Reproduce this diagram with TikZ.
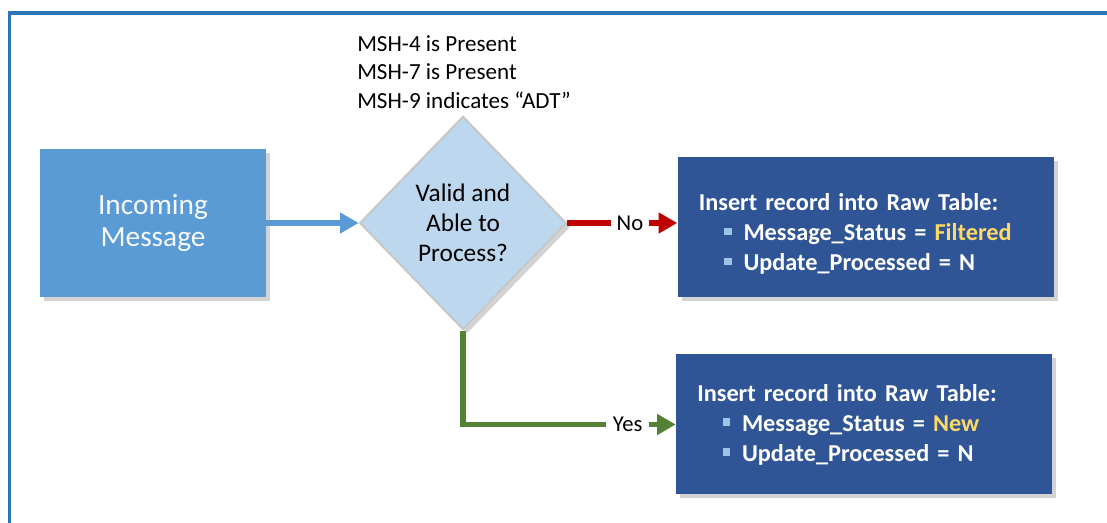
\documentclass[tikz,border=0pt]{standalone}
\usepackage{fontspec}
\setmainfont{Carlito}
\usepackage{xcolor}
\usepackage{tikz}
\usetikzlibrary{shapes.geometric}
\usetikzlibrary{shadows}
\usetikzlibrary{arrows.meta}
\definecolor{cframe}{rgb}{0.18,0.46,0.71}
\definecolor{cinmsg}{rgb}{0.357,0.608,0.835}
\definecolor{cvalid}{rgb}{0.741,0.843,0.933}
\definecolor{cvalidline}{rgb}{0.78,0.78,0.78}
\definecolor{craw}{rgb}{0.184,0.333,0.592}
\definecolor{cno}{rgb}{0.753,0.,0.}
\definecolor{cyes}{rgb}{0.329,0.51,0.208}
\definecolor{cgold}{rgb}{1.,0.851,0.4}
\definecolor{cbul}{rgb}{0.616,0.765,0.902}
\newcommand{\sqbul}{\hspace*{19pt}\textcolor{cbul}{\rule[4pt]{5.5pt}{5.5pt}}\hspace{9pt}}
\tikzstyle{every node}=[font=\fontsize{17.5}{22.5}\selectfont]
\tikzstyle{shade}=[drop shadow={shadow xshift=3pt,shadow yshift=-3pt,opacity=0.35}]
\tikzstyle{rawbox}=[shade,fill=craw,text=white,font=\bfseries\fontsize{18.2}{22.5}\selectfont,
  minimum width=282pt,minimum height=105pt,inner xsep=16pt,text width=250pt,align=left]
\tikzstyle{flow}=[line width=4.5pt,-{Triangle[length=14pt,width=15pt]}]

\begin{document}
\begin{tikzpicture}[line join=miter,x=0.75pt,y=-0.75pt]
\useasboundingbox (0,0) rectangle (1107,523);
\draw[cframe,line width=2.3pt] (9.7,523) -- (9.7,13) -- (1107,13);

\node[anchor=north west,inner sep=0pt,align=left,font=\fontsize{17.3}{21.4}\selectfont] (cond) at (357,35)
  {MSH-4 is Present\\MSH-7 is Present\\MSH-9 indicates “ADT”};
\node[shade,fill=cinmsg,text=white!95!cinmsg,minimum width=169.5pt,minimum height=111pt,align=center,
  font=\fontsize{22}{24}\selectfont] (inmsg) at (153,223) {Incoming\\Message};
\node[shade,diamond,aspect=0.97,fill=cvalid,draw=cvalidline,line width=1.5pt,inner sep=0pt,
  minimum width=155pt,minimum height=160pt,align=center,font=\fontsize{19}{22.5}\selectfont] (valid) at (463,223)
  {Valid and\\Able to\\Process?};
\node[rawbox,inner ysep=0pt] (rawno) at (865.5,227.5)
  {\rule{0pt}{22pt}Insert record into Raw Table:\\\sqbul Message\_Status = \textcolor{cgold}{Filtered}\\\sqbul Update\_Processed = N};
\node[rawbox,inner xsep=14pt] (rawyes) at (864,424.5)
  {Insert record into Raw Table:\\\sqbul Message\_Status = \textcolor{cgold}{New}\\\sqbul Update\_Processed = N};

\draw[flow,cinmsg] (inmsg.east) -- (valid.west);
\draw[flow,cno] (valid.east) -- node[pos=0.57,fill=white,text=black,inner sep=4pt,font=\fontsize{17}{20}\selectfont] {No} (valid.east -| rawno.west);
\draw[flow,cyes,line width=4pt] (valid.south) |- node[pos=0.887,fill=white,text=black,inner sep=5pt,font=\fontsize{17}{20}\selectfont] {Yes} (rawyes.west);
\end{tikzpicture}
\end{document}
